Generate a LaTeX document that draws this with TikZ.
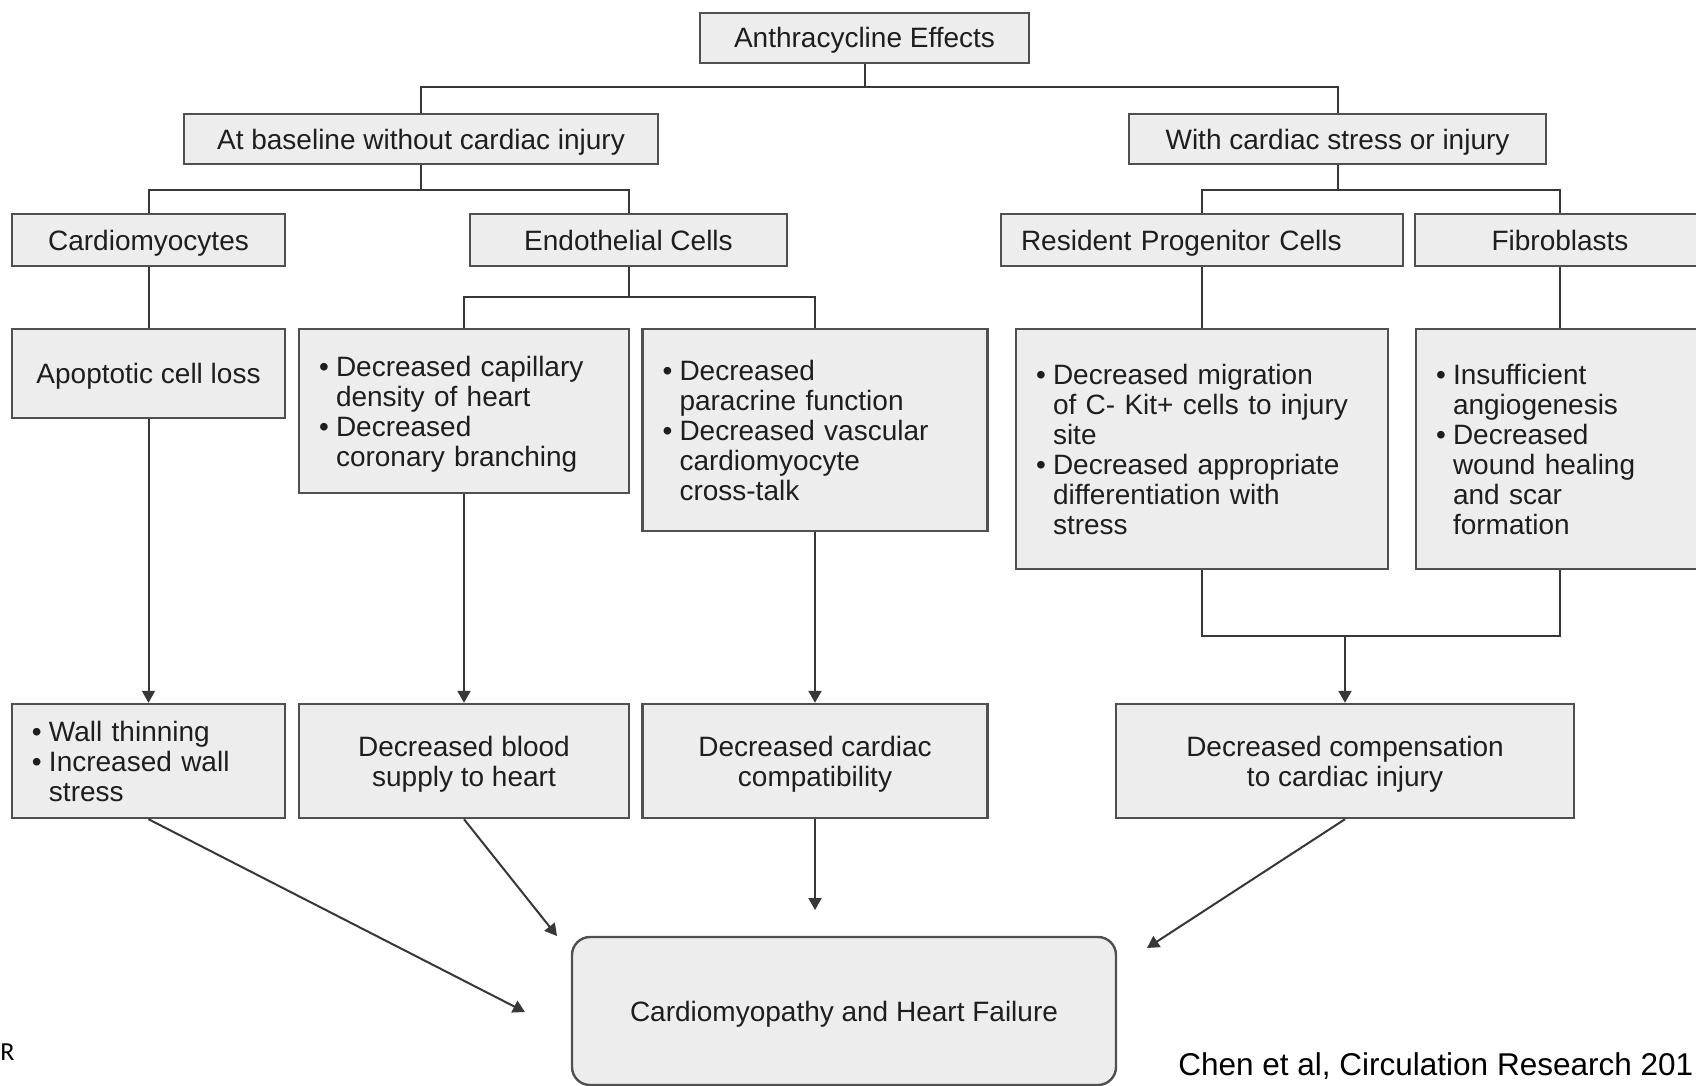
\documentclass[tikz,border=0pt]{standalone}
\usepackage{fontspec}
\setmainfont{Liberation Sans}
\newfontfamily\calfont{Carlito}
\usetikzlibrary{arrows.meta}
\definecolor{boxfill}{RGB}{237,237,237}
\definecolor{boxline}{RGB}{80,80,80}
\definecolor{conline}{RGB}{55,55,55}
\definecolor{txt}{RGB}{30,30,30}
\newcommand{\mybul}{\makebox[8.5pt][l]{\textbullet}}
\newcommand{\myind}{\hspace*{8.5pt}}
\begin{document}
\begin{tikzpicture}[x=0.5pt, y=-0.5pt,
  font=\fontsize{14}{15}\selectfont,
  basebox/.style={draw=boxline, fill=boxfill, line width=1.2pt, text=txt, inner sep=0pt},
  box/.style={basebox, align=center, text depth=0pt},
  one/.style={box, text height=10pt},
  blist/.style={basebox, align=left, inner xsep=10pt, inner ysep=0pt},
  con/.style={draw=conline, line width=1pt},
  arr/.style={con, -{Triangle[length=6pt,width=6.5pt]}}]
\useasboundingbox (0,0) rectangle (1696,1086);
\clip (0,0) rectangle (1696,1086);
\fill[white] (0,0) rectangle (1696,1086);

% level 0
\node[one, minimum width=164.5pt, minimum height=25pt] (anth) at (864.5,38) {Anthracycline Effects};
% level 1
\node[one, minimum width=237pt, minimum height=25pt] (base) at (421,139) {At baseline without cardiac injury};
\node[one, minimum width=208.5pt, minimum height=25pt] (with) at (1337.5,139) {With cardiac stress or injury};
% level 2
\node[one, minimum width=136.5pt, minimum height=26pt] (cardio) at (148.5,240) {Cardiomyocytes};
\node[one, minimum width=158.5pt, minimum height=26pt] (endo) at (628.5,240) {Endothelial Cells};
\node[one, align=left, inner xsep=10pt, text width=181pt, minimum height=26pt] (res) at (1202,240) {Resident Progenitor Cells};
\node[one, minimum width=145pt, minimum height=26pt] (fib) at (1560,240) {Fibroblasts};
% level 3
\node[one, minimum width=136.5pt, minimum height=44.5pt] (apop) at (148.5,373.5) {Apoptotic cell loss};
\node[blist, text width=145pt, minimum height=82pt] (capd) at (464,411)
  {\mybul Decreased capillary\\ \myind density of heart\\ \mybul Decreased\\ \myind coronary branching\par\kern-2.9pt};
\node[blist, text width=152.5pt, minimum height=101pt] (parad) at (815,430)
  {\mybul Decreased\\ \myind paracrine function\\ \mybul Decreased vascular\\ \myind cardiomyocyte\\ \myind cross-talk};
\node[blist, text width=166pt, minimum height=120pt] (resd) at (1202,449)
  {\mybul Decreased migration\\ \myind of C- Kit+ cells to injury\\ \myind site\\ \mybul Decreased appropriate\\ \myind differentiation with\\ \myind stress};
\node[blist, text width=124pt, minimum height=120pt] (fibd) at (1560,449)
  {\mybul Insufficient\\ \myind angiogenesis\\ \mybul Decreased\\ \myind wound healing\\ \myind and scar\\ \myind formation};
% level 4
\node[blist, text width=116.5pt, minimum height=57pt] (wall) at (148.5,761)
  {\mybul Wall thinning\\ \mybul Increased wall\\ \myind stress};
\node[box, minimum width=165pt, minimum height=57pt] (blood) at (464,761) {Decreased blood\\ supply to heart};
\node[box, minimum width=172.5pt, minimum height=57pt] (compat) at (815,761) {Decreased cardiac\\ compatibility};
\node[box, minimum width=229pt, minimum height=57pt] (comp) at (1345,761) {Decreased compensation\\ to cardiac injury};
% final
\node[one, rounded corners=9pt, minimum width=272pt, minimum height=74pt] (final) at (844,1011) {Cardiomyopathy and Heart Failure};

% tree connectors
\coordinate (j1) at (864.5,87);
\draw[con] (anth.south) -- (j1);
\draw[con] (base.north) |- (j1) -| (with.north);
\coordinate (j2) at (421,190);
\draw[con] (base.south) -- (j2);
\draw[con] (cardio.north) |- (j2) -| (endo.north);
\coordinate (j3) at (1337.5,190);
\draw[con] (with.south) -- (j3);
\draw[con] (res.north) |- (j3) -| (fib.north);
\draw[con] (cardio.south) -- (apop.north);
\coordinate (j4) at (628.5,297);
\draw[con] (endo.south) -- (j4);
\draw[con] (capd.north) |- (j4) -| (parad.north);
\draw[con] (res.south) -- (resd.north);
\draw[con] (fib.south) -- (fibd.north);
\coordinate (j5) at (1345,636);
\draw[con] (resd.south) |- (j5) -| (fibd.south);
\draw[arr] (j5) -- (comp.north);
\draw[arr] (apop.south) -- (wall.north);
\draw[arr] (capd.south) -- (blood.north);
\draw[arr] (parad.south) -- (compat.north);
% to final
\coordinate (t1) at (525,1012);
\coordinate (t2) at (557,936);
\coordinate (t3) at (815,910);
\coordinate (t4) at (1147,948);
\draw[arr] (wall.south) -- (t1);
\draw[arr] (blood.south) -- (t2);
\draw[arr] (compat.south) -- (t3);
\draw[arr] (comp.south) -- (t4);

% extra texts
\node[anchor=base west, inner sep=0pt, font=\fontsize{15.75}{17}\selectfont] (cite) at (1178,1075) {Chen et al, Circulation Research 201};
\node[anchor=base west, inner sep=0pt, font=\calfont\fontsize{13}{14}\selectfont] (rmark) at (0,1060) {R};
\end{tikzpicture}
\end{document}
